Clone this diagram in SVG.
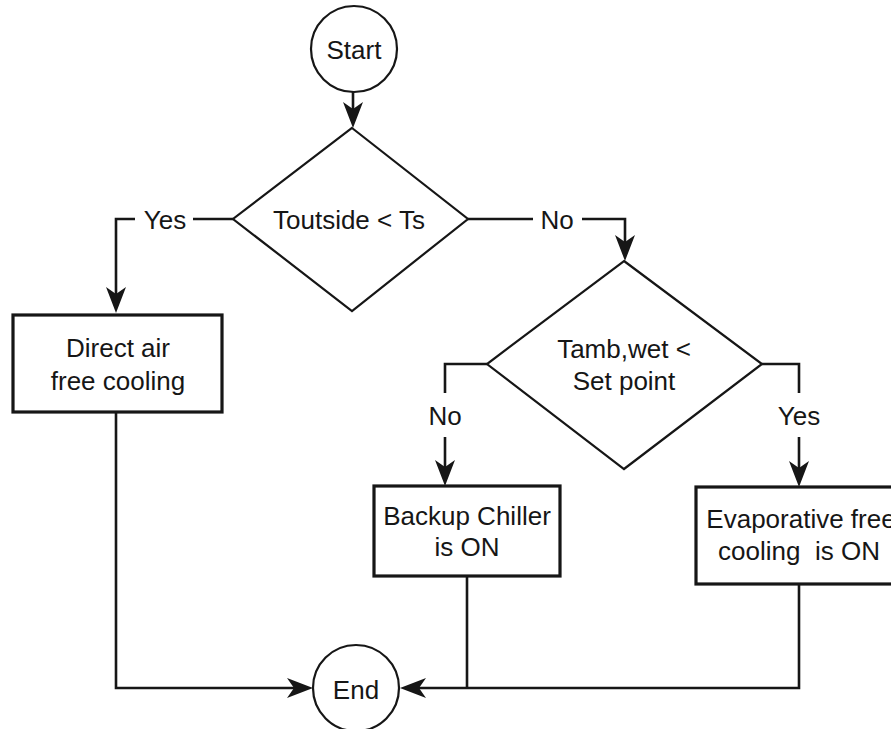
<svg xmlns="http://www.w3.org/2000/svg" width="891" height="729" viewBox="0 0 891 729">
  <defs>
    <style>
      text { font-family: "Liberation Sans", Arial, sans-serif; font-size: 26px; fill: #161616; text-anchor: middle; }
      .term { fill: #ffffff; stroke: #161616; stroke-width: 2.2; }
      .dec { fill: #ffffff; stroke: #161616; stroke-width: 2.2; }
      .proc { fill: #ffffff; stroke: #161616; stroke-width: 3.2; }
      .wire { fill: none; stroke: #161616; stroke-width: 2.6; }
      .arrow { marker-end: url(#head); }
    </style>
    <marker id="head" markerUnits="userSpaceOnUse" viewBox="-20 -11 30 22" refX="0" refY="0" markerWidth="30" markerHeight="22" orient="auto">
      <path d="M8,0 L-18,-10 L-11,0 L-18,10 Z" fill="#161616"/>
    </marker>
  </defs>
  <rect x="0" y="0" width="891" height="729" fill="#ffffff"/>

  <g id="connectors">
    <path class="wire arrow" d="M353,92 V120"/>
    <path class="wire" d="M233,219 H193"/>
    <path class="wire arrow" d="M135,219 H116 V305"/>
    <path class="wire" d="M468,219 H533"/>
    <path class="wire arrow" d="M582,219 H625 V253"/>
    <path class="wire" d="M487,364 H445 V393"/>
    <path class="wire arrow" d="M445,437 V478"/>
    <path class="wire" d="M762,364 H799 V393"/>
    <path class="wire arrow" d="M799,437 V479"/>
    <path class="wire arrow" d="M116,412 V688 H305"/>
    <path class="wire arrow" d="M799,584 V688 H408"/>
    <path class="wire" d="M467,576 V688"/>
    <text x="165" y="229">Yes</text>
    <text x="557" y="229">No</text>
    <text x="445" y="425">No</text>
    <text x="799" y="425">Yes</text>
  </g>

  <g id="start">
    <circle class="term" cx="354" cy="49" r="43"/>
    <text x="354" y="59">Start</text>
  </g>

  <g id="check-outside">
    <polygon class="dec" points="352,128 468,219 352,311 233,219"/>
    <text x="349" y="229">Toutside &lt; Ts</text>
  </g>

  <g id="direct-air">
    <rect class="proc" x="13" y="315" width="209" height="97"/>
    <text x="118" y="357">Direct air</text>
    <text x="118" y="390">free cooling</text>
  </g>

  <g id="check-wetbulb">
    <polygon class="dec" points="624,261 762,364 624,469 487,364"/>
    <text x="624" y="358">Tamb,wet &lt;</text>
    <text x="624" y="390">Set point</text>
  </g>

  <g id="backup-chiller">
    <rect class="proc" x="374" y="486" width="186" height="90"/>
    <text x="467" y="525">Backup Chiller</text>
    <text x="467" y="556">is ON</text>
  </g>

  <g id="evaporative">
    <rect class="proc" x="696" y="487" width="210" height="97"/>
    <text x="801" y="528">Evaporative free</text>
    <text x="799" y="560" xml:space="preserve">cooling  is ON</text>
  </g>

  <g id="end">
    <circle class="term" cx="356" cy="688" r="43"/>
    <text x="356" y="699">End</text>
  </g>
</svg>
